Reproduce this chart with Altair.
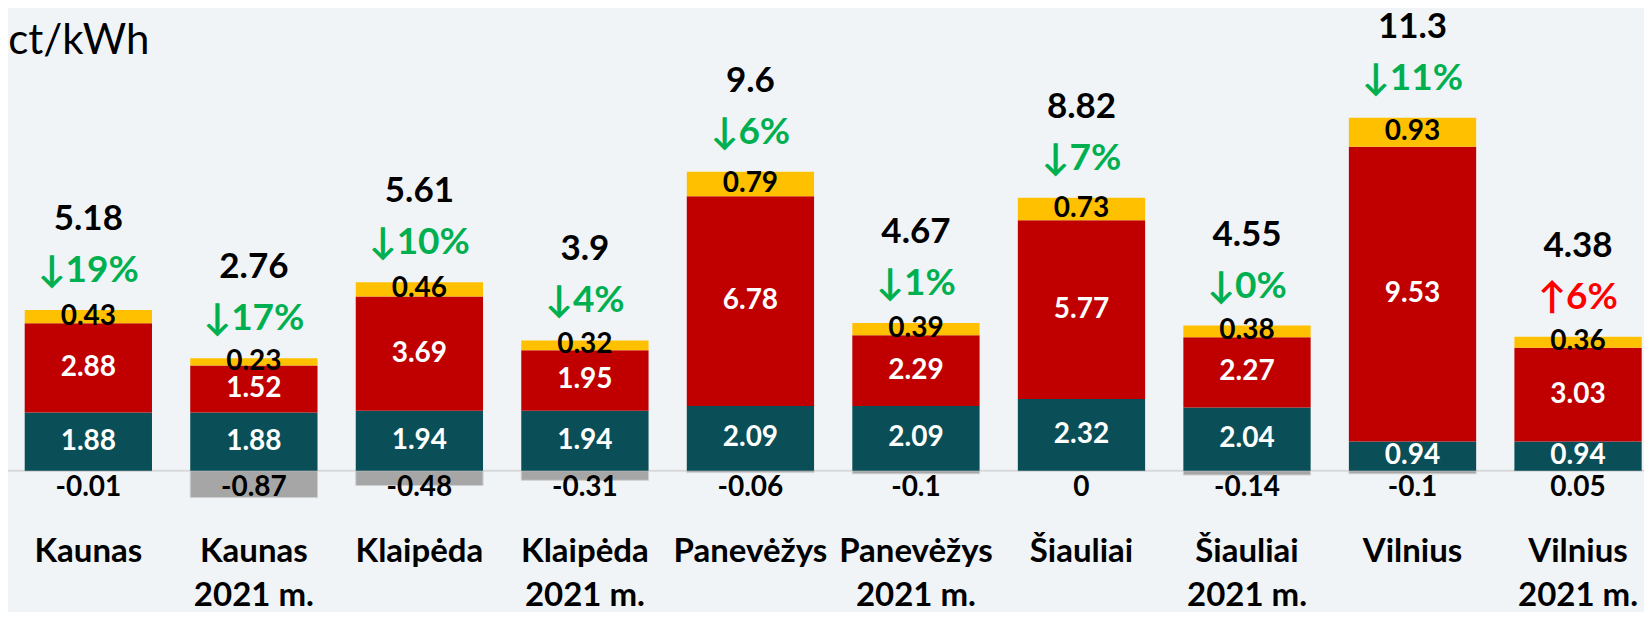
import altair as alt
import pandas as pd

categories = ["Kaunas", "Kaunas 2021 m.", "Klaipėda", "Klaipėda 2021 m.",
              "Panevėžys", "Panevėžys 2021 m.", "Šiauliai", "Šiauliai 2021 m.",
              "Vilnius", "Vilnius 2021 m."]
teal = [1.88, 1.88, 1.94, 1.94, 2.09, 2.09, 2.32, 2.04, 0.94, 0.94]
red = [2.88, 1.52, 3.69, 1.95, 6.78, 2.29, 5.77, 2.27, 9.53, 3.03]
yellow = [0.43, 0.23, 0.46, 0.32, 0.79, 0.39, 0.73, 0.38, 0.93, 0.36]
gray = [-0.01, -0.87, -0.48, -0.31, -0.06, -0.1, 0, -0.14, -0.1, 0.05]
totals = [5.18, 2.76, 5.61, 3.9, 9.6, 4.67, 8.82, 4.55, 11.3, 4.38]
changes = [-19, -17, -10, -4, -6, -1, -7, 0, -11, 6]

comp_names = ["teal", "red", "yellow", "gray"]
comp_colors = ["#0a4f57", "#c00000", "#ffc000", "#a6a6a6"]

seg_rows, gray_rows, top_rows = [], [], []
for i, c in enumerate(categories):
    b = 0.0
    for name, vals in (("teal", teal), ("red", red), ("yellow", yellow)):
        v = vals[i]
        seg_rows.append(dict(cat=c, comp=name, y0=b, y1=b + v, mid=b + v / 2, label=f"{v:g}"))
        b += v
    g = gray[i]
    gray_rows.append(dict(cat=c, comp="gray", y0=0.0, y1=g, base=0.0, label=f"{g:g}"))
    ch = changes[i]
    arrow = "↑" if ch > 0 else "↓"
    top_rows.append(dict(cat=c, top=b, total=f"{totals[i]:g}", chg=ch, pct=f"{arrow}{abs(ch)}%"))

seg = pd.DataFrame(seg_rows)
grd = pd.DataFrame(gray_rows)
tops = pd.DataFrame(top_rows)

W = 1617
H = 464.25
FONT = "Lato"

yscale = alt.Scale(domain=[-1, 14], nice=False, zero=False)
yaxis = alt.Axis(
    title="ct/kWh", titleFont=FONT, titleFontSize=42, titleFontWeight="normal",
    titleColor="black", titleAngle=0, titleAlign="left", titleBaseline="alphabetic",
    titleX=-17, titleY=15.9, labels=False, ticks=False, domain=False, grid=False,
)
xaxis = alt.Axis(
    title=None, labelFont=FONT, labelFontSize=33, labelFontWeight="bold",
    labelColor="black", labelAngle=0, labelBaseline="alphabetic",
    labelPadding=60, labelLineHeight=44, ticks=False, tickSize=0,
    domain=False, grid=False, labelLimit=0, labelOverlap=False,
    labelExpr="indexof(datum.label, ' ') > 0 ? [slice(datum.label, 0, indexof(datum.label, ' ')), slice(datum.label, indexof(datum.label, ' ') + 1)] : datum.label",
)
X = alt.X("cat:N", sort=categories, scale=alt.Scale(paddingInner=0.231, paddingOuter=0), axis=xaxis)


def Y(field):
    return alt.Y(field, scale=yscale, axis=yaxis)


zero = alt.Chart(pd.DataFrame({"z": [0.0]})).mark_rule(color="#d9d9d9", strokeWidth=2).encode(
    y=Y("z:Q"), x=alt.value(-19), x2=alt.value(W + 9)
)

gray_bars = alt.Chart(grd).mark_bar(color="#a6a6a6", stroke="#d0d0d0", strokeWidth=1).encode(
    x=X, y=Y("y0:Q"), y2="y1:Q"
)

bars = alt.Chart(seg).mark_bar().encode(
    x=X,
    y=Y("y0:Q"),
    y2="y1:Q",
    color=alt.Color("comp:N", scale=alt.Scale(domain=comp_names, range=comp_colors), legend=None),
)

seg_text = alt.Chart(seg).mark_text(font=FONT, fontWeight="bold", fontSize=28, baseline="middle").encode(
    x=X, y=Y("mid:Q"), text="label:N",
    color=alt.condition("datum.comp == 'yellow'", alt.value("black"), alt.value("white")),
)

gray_text = alt.Chart(grd).mark_text(font=FONT, fontWeight="bold", fontSize=28, baseline="middle",
                                     dy=17, color="black").encode(
    x=X, y=Y("base:Q"), text="label:N"
)

tot_text = alt.Chart(tops).mark_text(font=FONT, fontWeight="bold", fontSize=35, baseline="alphabetic",
                                     dy=-80, color="black").encode(
    x=X, y=Y("top:Q"), text="total:N"
)

pct_text = alt.Chart(tops).mark_text(font=FONT, fontWeight="bold", fontSize=37, baseline="alphabetic",
                                     dy=-28).encode(
    x=X, y=Y("top:Q"), text="pct:N",
    color=alt.condition("datum.chg > 0", alt.value("#ff0000"), alt.value("#00b050")),
)

chart = alt.layer(zero, gray_bars, bars, seg_text, gray_text, tot_text, pct_text).properties(
    width=W, height=H,
    padding={"left": 16.7, "top": 29.4, "right": 2, "bottom": 110},
    autosize=alt.AutoSizeParams(type="none"),
).configure(background="#f0f4f7").configure_view(strokeWidth=0)

chart.save("out.html", embed_options={"renderer": "svg", "actions": False})
